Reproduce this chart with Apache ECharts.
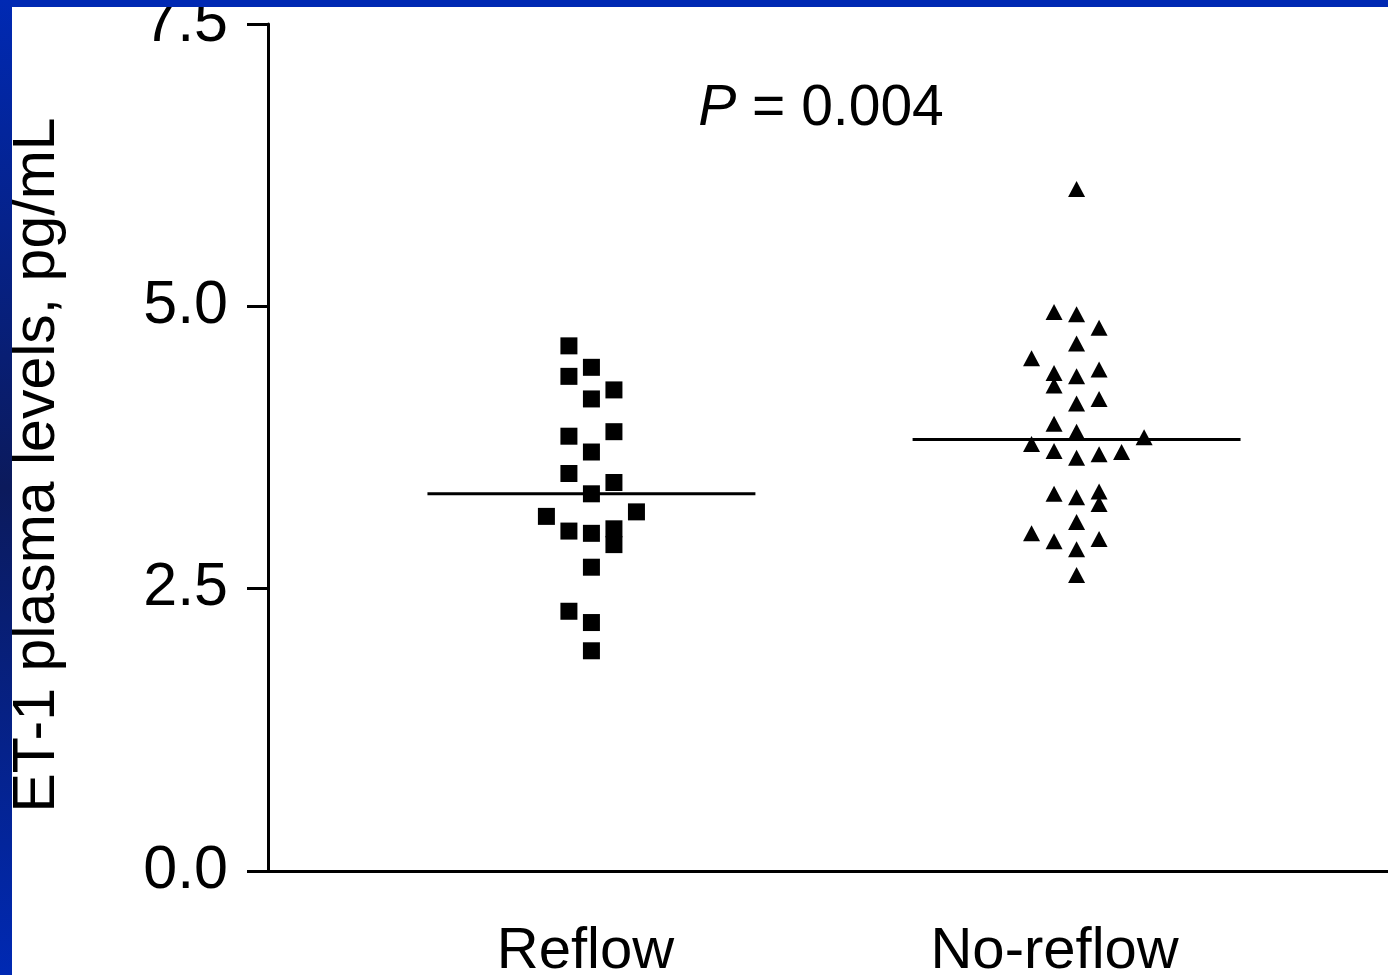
<!DOCTYPE html>
<html>
<head>
<meta charset="utf-8">
<script src="https://cdn.jsdelivr.net/npm/echarts@6/dist/echarts.min.js"></script>
<style>
	html, body { margin: 0; padding: 0; background: #fff; }
	#main { width: 1388px; height: 975px; }
</style>
</head>
<body>
<div id="main"></div>
<script>
// groups shown on the x axis (group 1 and 2)
var groups = ['Reflow', 'No-reflow'];
var yTicks = [0, 2.5, 5, 7.5];

// Reflow: ET-1 values and their dot column (offset from group centre)
var reflowValues = [4.65, 4.46, 4.38, 4.26, 4.18, 3.89, 3.85, 3.71, 3.52, 3.44, 3.34,
	3.14, 3.18, 3.01, 2.99, 3.03, 2.89, 2.69, 2.30, 2.20, 1.95];
var reflowCols = [-1, 0, -1, 1, 0, 1, -1, 0, -1, 1, 0,
	-2, 2, -1, 0, 1, 1, 0, -1, 0, 0];

// No-reflow
var noReflowValues = [6.04, 4.95, 4.93, 4.81, 4.67, 4.54, 4.41, 4.30, 4.38, 4.44,
	4.14, 4.18, 3.96, 3.89, 3.78, 3.72, 3.66, 3.69, 3.71, 3.84,
	3.34, 3.31, 3.36, 3.25, 3.09, 2.99, 2.92, 2.85, 2.94, 2.62];
var noReflowCols = [0, -1, 0, 1, 0, -2, -1, -1, 0, 1,
	0, 1, -1, 0, -2, -1, 0, 1, 2, 3,
	-1, 0, 1, 1, 0, -2, -1, 0, 1, 0];

// medians (horizontal bars)
var medians = [3.34, 3.82];
var pText = '0.004';

var FONT = '"Liberation Sans", Arial, Helvetica, sans-serif';
var STEP = 0.0464;     // horizontal spacing of dots
var HALF = 0.338;      // half width of median bar

function toPoints(group, values, cols) {
	var pts = [];
	for (var i = 0; i < values.length; i++) {
		pts.push([group + cols[i] * STEP, values[i]]);
	}
	return pts;
}

function medianLine(group, m) {
	return [[group - HALF, m], [group + HALF, m]];
}

var myChart = echarts.init(document.getElementById('main'));

var option = {
	backgroundColor: '#ffffff',
	animation: false,
	grid: { left: 268, right: -12, top: 24, bottom: 104, outerBoundsMode: 'none', containLabel: false },
	xAxis: {
		type: 'value',
		min: 1 / 3,
		max: 8 / 3,
		interval: 1 / 3,
		splitLine: { show: false },
		axisTick: { show: false },
		axisLine: { lineStyle: { color: '#000', width: 3 } },
		axisLabel: {
			margin: 52,
			showMinLabel: false,
			showMaxLabel: false,
			formatter: function(v) {
				if (Math.abs(v - 1) < 0.01) return '{a|' + groups[0] + '}';
				if (Math.abs(v - 2) < 0.01) return '{b|' + groups[1] + '}';
				return '';
			},
			rich: {
				a: { fontSize: 58, fontFamily: FONT, color: '#000', padding: [0, 12, 0, 0] },
				b: { fontSize: 58, fontFamily: FONT, color: '#000', padding: [0, 44, 0, 0] }
			}
		}
	},
	yAxis: {
		type: 'value',
		min: yTicks[0],
		max: yTicks[yTicks.length - 1],
		interval: 2.5,
		splitLine: { show: false },
		axisLine: { show: true, lineStyle: { color: '#000', width: 3 } },
		axisTick: { show: true, length: 21, lineStyle: { color: '#000', width: 3 } },
		axisLabel: {
			margin: 40,
			fontSize: 61,
			fontFamily: FONT,
			color: '#000',
			formatter: function(v) { return v.toFixed(1); }
		}
	},
	graphic: [
		// blue slide frame
		{ type: 'rect', z: 100, shape: { x: 0, y: 0, width: 1388, height: 7 }, style: { fill: '#0029b3' } },
		{
			type: 'rect', z: 100, shape: { x: 0, y: 0, width: 12, height: 975 },
			style: {
				fill: new echarts.graphic.LinearGradient(0, 0, 0, 1, [
					{ offset: 0, color: '#0029b3' },
					{ offset: 0.5, color: '#0b1a5c' },
					{ offset: 1, color: '#0029b3' }
				])
			}
		},
		{
			type: 'text', x: 38, y: 465, rotation: Math.PI / 2,
			style: {
				text: 'ET-1 plasma levels, pg/mL',
				font: '59px ' + FONT,
				fill: '#000',
				align: 'center',
				verticalAlign: 'middle'
			}
		},
		{
			type: 'text', x: 821, y: 109,
			style: {
				text: '{i|P} = ' + pText,
				fill: '#000',
				align: 'center',
				verticalAlign: 'middle',
				rich: {
					i: { fontSize: 57, fontStyle: 'italic', fontFamily: FONT, color: '#000' }
				},
				font: '57px ' + FONT
			}
		}
	],
	series: [
		{
			name: groups[0],
			type: 'scatter',
			symbol: 'rect',
			symbolSize: 17,
			itemStyle: { color: '#000', opacity: 1 },
			data: toPoints(1, reflowValues, reflowCols)
		},
		{
			name: groups[1],
			type: 'scatter',
			symbol: 'triangle',
			symbolSize: [17, 16],
			itemStyle: { color: '#000', opacity: 1 },
			data: toPoints(2, noReflowValues, noReflowCols)
		},
		{
			type: 'line',
			symbol: 'none',
			lineStyle: { color: '#000', width: 3 },
			data: medianLine(1, medians[0])
		},
		{
			type: 'line',
			symbol: 'none',
			lineStyle: { color: '#000', width: 3 },
			data: medianLine(2, medians[1])
		}
	]
};
myChart.setOption(option);
</script>
</body>
</html>
